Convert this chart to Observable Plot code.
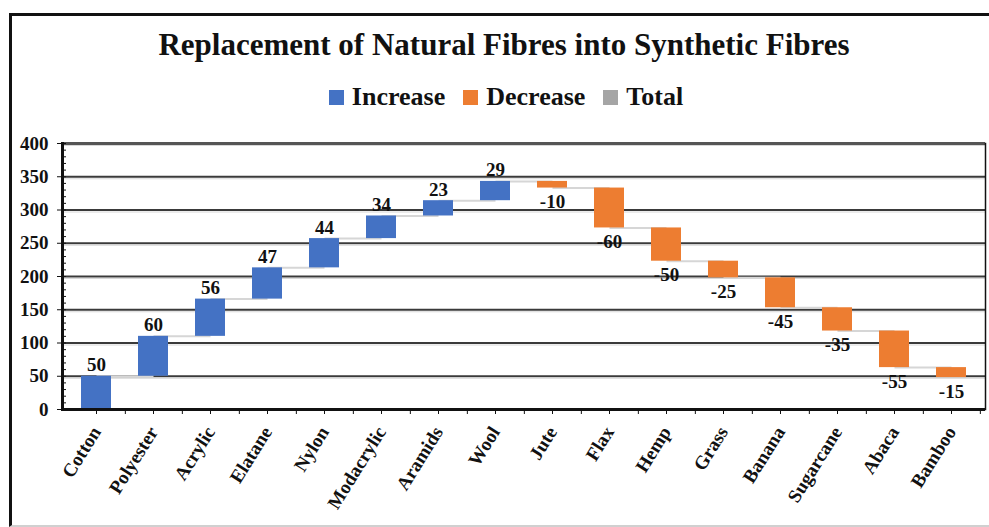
<!DOCTYPE html>
<html><head><meta charset="utf-8">
<script src="https://cdn.jsdelivr.net/npm/d3@7"></script>
<script src="https://cdn.jsdelivr.net/npm/@observablehq/plot@0.6"></script>
<style>
body{margin:0;background:#fff;width:989px;height:527px;overflow:hidden;position:relative;font-family:'Liberation Serif',serif;}
#frame{position:absolute;left:9px;top:13px;width:990px;height:509px;border-left:3px solid #111;border-top:3px solid #111;border-bottom:2px solid #d0d0d0;}
#title{position:absolute;left:0;width:1008px;top:26px;text-align:center;font-weight:bold;font-size:31px;color:#111;line-height:37px;}
#legend{position:absolute;left:0;width:1012px;top:82px;display:flex;justify-content:center;gap:18px;font-weight:bold;font-size:26px;color:#111;line-height:30px;}
#legend .item{display:flex;align-items:center;gap:8px;}
#legend .sw{width:15px;height:15px;display:inline-block;}
#chart{position:absolute;left:0;top:130px;}
</style></head>
<body>
<div id="frame"></div>
<div id="title">Replacement of Natural Fibres into Synthetic Fibres</div>
<div id="legend"></div>
<div id="chart"></div>
<script>
const categories = ["Cotton","Polyester","Acrylic","Elatane","Nylon","Modacrylic","Aramids","Wool","Jute","Flax","Hemp","Grass","Banana","Sugarcane","Abaca","Bamboo"];
const values = [50,60,56,47,44,34,23,29,-10,-60,-50,-25,-45,-35,-55,-15];
const legendNames = ["Increase","Decrease","Total"];
const legendColors = ["#4472C4","#ED7D31","#A5A5A5"];
const yTicks = [0,50,100,150,200,250,300,350,400];
const yMinorTicks = d3.range(0,401,10);

let run = 0;
const rows = categories.map((c,i)=>{
  const start = run; run += values[i];
  return {cat:c, value:values[i], start, end:run, type: values[i] >= 0 ? "Increase" : "Decrease", next: categories[i+1]};
});
const links = rows.filter(d => d.next);

const leg = document.getElementById("legend");
legendNames.forEach((n,i)=>{
  const it = document.createElement("span"); it.className="item";
  const sw = document.createElement("span"); sw.className="sw"; sw.style.background = legendColors[i];
  it.appendChild(sw); it.appendChild(document.createTextNode(n));
  leg.appendChild(it);
});

const W = 989, ML = 62, MR = 4;
const step = (W - ML - MR) / categories.length;

const chart = Plot.plot({
  width: W, height: 397,
  marginTop: 13, marginBottom: 118, marginLeft: ML, marginRight: MR,
  style: {fontFamily: "'Liberation Serif', serif", fontWeight: "bold", fontSize: "18px", color: "#111", background: "transparent", overflow: "visible"},
  x: {domain: categories, paddingInner: 0.48, paddingOuter: 0.24, label: null},
  y: {domain: [0,400], label: null},
  color: {domain: legendNames, range: legendColors},
  marks: [
    Plot.ruleY(yTicks.slice(1), {stroke: "#3a3a3a", strokeWidth: 2}),
    Plot.ruleY(yTicks.slice(1), {stroke: "#d8d8d8", strokeWidth: 1, dy: 2}),
    Plot.ruleY([400], {stroke: "#555", strokeWidth: 3}),
    Plot.link(links, {x1: "cat", x2: "next", y1: "end", y2: "end", stroke: "#d6d6d6", strokeWidth: 2}),
    Plot.barY(rows, {x: "cat", y1: "start", y2: "end", fill: "type"}),
    Plot.text(rows.filter(d => d.value >= 0), {x: "cat", y: "end", text: d => String(d.value), dy: -11, fontSize: 19, fill: "#111"}),
    Plot.text(rows.filter(d => d.value < 0), {x: "cat", y: "end", text: d => String(d.value), dy: 14, fontSize: 19, fill: "#111"}),
    Plot.axisY({ticks: yMinorTicks, tickSize: -4, tickFormat: () => ""}),
    Plot.axisY({ticks: yTicks, tickSize: 5, tickPadding: 9, fontSize: 19}),
    Plot.frame({anchor: "left", stroke: "#111", strokeWidth: 3}),
    Plot.frame({anchor: "right", stroke: "#111", strokeWidth: 1.5}),
    Plot.ruleY([0], {stroke: "#111", strokeWidth: 3}),
    Plot.axisX({tickSize: 5, dx: step/2, tickFormat: () => ""}),
    Plot.axisX({tickSize: 5, tickPadding: 14, tickRotate: -58, fontSize: 19})
  ]
});
document.getElementById("chart").appendChild(chart);
</script>
</body></html>
